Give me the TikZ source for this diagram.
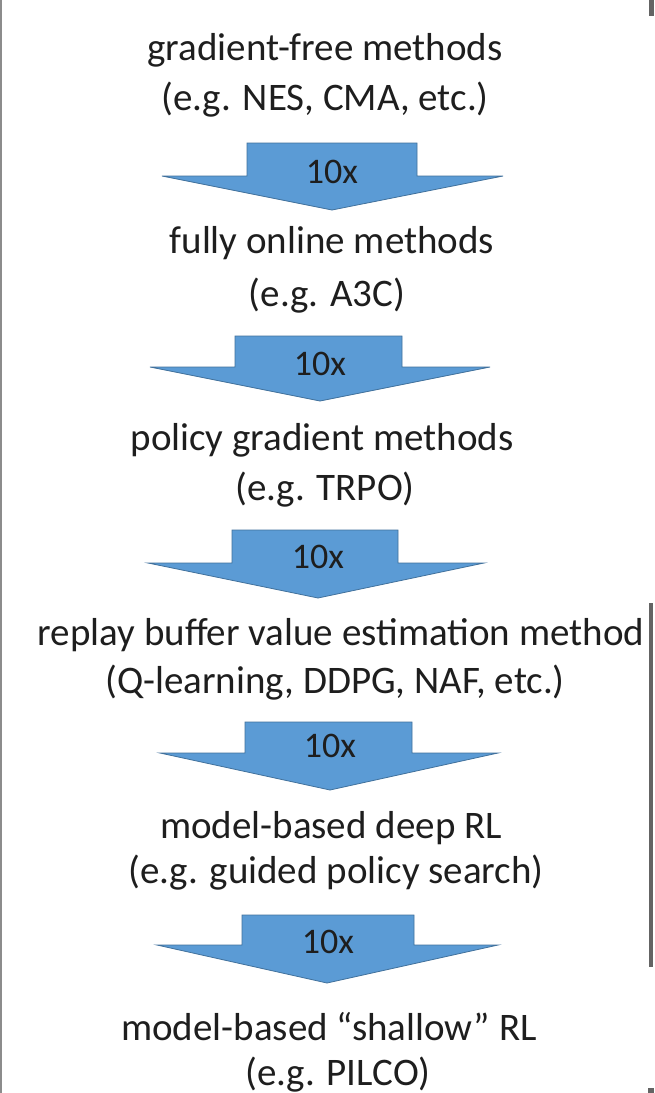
\documentclass[tikz,border=0pt]{standalone}
\usepackage{fontspec}
\setmainfont{Carlito}
\definecolor{arrowfill}{RGB}{91,155,213}
\definecolor{arrowedge}{RGB}{65,113,156}
\definecolor{txt}{RGB}{30,30,30}
\definecolor{frameline}{RGB}{140,140,140}
\definecolor{framebar}{RGB}{100,100,100}
\begin{document}
\begin{tikzpicture}[x=1pt,y=-1pt,
  lbl/.style={anchor=base,inner sep=0pt,text=txt,font=\fontsize{39}{47}\selectfont},
  factor/.style={inner sep=0pt,text=txt,font=\fontsize{36}{43}\selectfont},
  blockarrow/.style={fill=arrowfill,draw=arrowedge,line width=0.8pt,line join=miter},
  frameedge/.style={draw=frameline,line width=2pt},
  framepiece/.style={fill=framebar}]
\useasboundingbox (0,0) rectangle (654,1093);
\fill[white] (0,0) rectangle (654,1093);
% frame remnants
\draw[frameedge] (1,0) -- (1,1093);
\fill[framepiece] (649,0) rectangle (654,16);
\fill[framepiece] (649,603) rectangle (653,967);
\fill[framepiece] (648,1088) rectangle (654,1093);
% texts
\node[lbl] (t1a) at (325,60) {gradient-free methods};
\node[lbl] (t1b) at (325,110) {(e.g. NES, CMA, etc.)};
\node[lbl] (t2a) at (332,253) {fully online methods};
\node[lbl] (t2b) at (327,306) {(e.g. A3C)};
\node[lbl] (t3a) at (322,450) {policy gradient methods};
\node[lbl] (t3b) at (325,500) {(e.g. TRPO)};
\node[lbl] (t4a) at (341,645) {replay buffer value estimation method};
\node[lbl] (t4b) at (335,693) {(Q-learning, DDPG, NAF, etc.)};
\node[lbl] (t5a) at (331,838) {model-based deep RL};
\node[lbl] (t5b) at (336,883) {(e.g. guided policy search)};
\node[lbl] (t6a) at (329,1040) {model-based “shallow” RL};
\node[lbl] (t6b) at (338,1085) {(e.g. PILCO)};
% block arrows
\draw[blockarrow] (247,143) -- (417,143) -- (417,176) -- (503,176) -- (332,210) -- (162,176) -- (247,176) -- cycle;
\node[factor] (f1) at (332,172) {10x};
\draw[blockarrow] (235,336) -- (402,336) -- (402,367) -- (490,367) -- (320,401) -- (150,367) -- (235,367) -- cycle;
\node[factor] (f2) at (320,364) {10x};
\draw[blockarrow] (232,530) -- (398,530) -- (398,563) -- (484,563) -- (318,598) -- (148,563) -- (232,563) -- cycle;
\node[factor] (f3) at (318,557) {10x};
\draw[blockarrow] (245,722) -- (412,722) -- (412,753) -- (498,753) -- (330,790) -- (160,753) -- (245,753) -- cycle;
\node[factor] (f4) at (330,746) {10x};
\draw[blockarrow] (242,915) -- (414,915) -- (414,945) -- (498,945) -- (327,983) -- (157,945) -- (242,945) -- cycle;
\node[factor] (f5) at (328,942) {10x};
\end{tikzpicture}
\end{document}
